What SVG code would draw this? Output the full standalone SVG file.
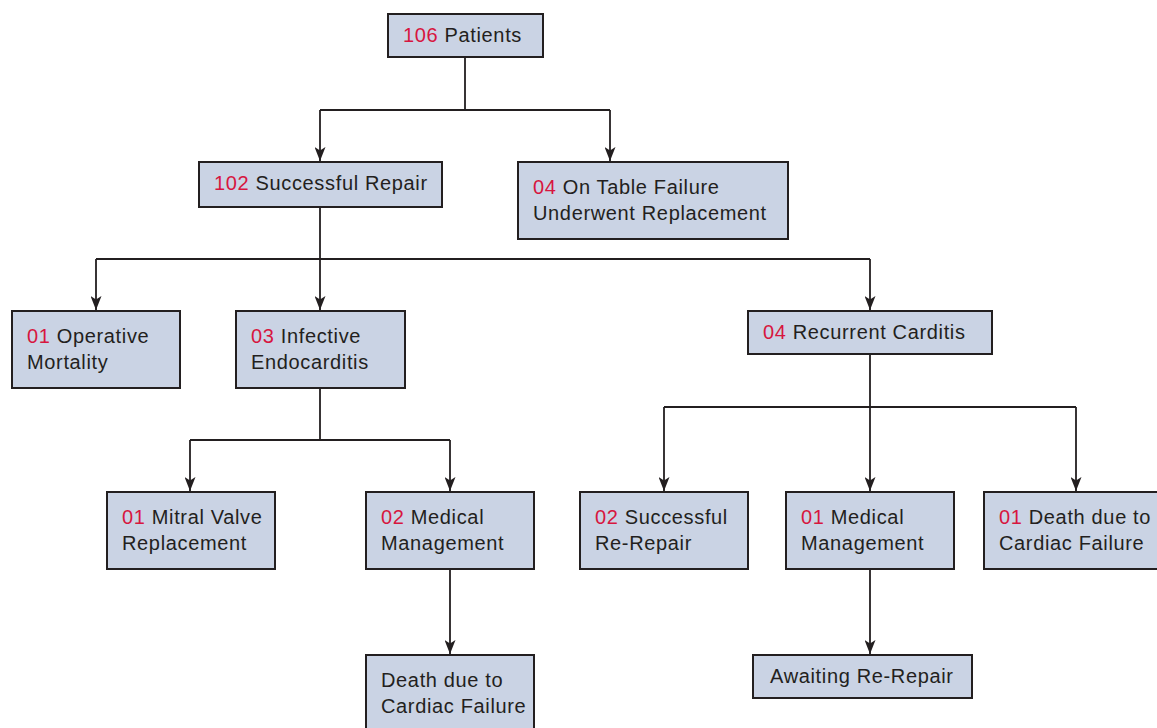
<svg xmlns="http://www.w3.org/2000/svg" width="1157" height="728" viewBox="0 0 1157 728">
<style>
.box{fill:#cad3e4;stroke:#231f20;stroke-width:2}
.t{font-family:"Liberation Sans",Arial,sans-serif;font-size:20px;letter-spacing:0.65px;fill:#231f20}
.n{fill:#d7163f}
.c{fill:none;stroke:#231f20;stroke-width:1.8}
</style>
<defs>
<marker id="a" markerWidth="11" markerHeight="14" refX="5.5" refY="14" orient="0" markerUnits="userSpaceOnUse" viewBox="0 0 11 14">
<path d="M0,0 L5.5,3.5 L11,0 L5.5,14 Z" fill="#231f20"/>
</marker>
</defs>
<g id="connectors">
<path class="c" d="M465,57 V110 M320,110 H610"/>
<path class="c" d="M320,110 V161" marker-end="url(#a)"/>
<path class="c" d="M610,110 V161" marker-end="url(#a)"/>
<path class="c" d="M320,207 V259 M96,259 H870"/>
<path class="c" d="M96,259 V310" marker-end="url(#a)"/>
<path class="c" d="M320,259 V310" marker-end="url(#a)"/>
<path class="c" d="M870,259 V310" marker-end="url(#a)"/>
<path class="c" d="M320,388 V440 M190,440 H450"/>
<path class="c" d="M190,440 V491" marker-end="url(#a)"/>
<path class="c" d="M450,440 V491" marker-end="url(#a)"/>
<path class="c" d="M870,354 V407 M664,407 H1076"/>
<path class="c" d="M664,407 V491" marker-end="url(#a)"/>
<path class="c" d="M870,407 V491" marker-end="url(#a)"/>
<path class="c" d="M1076,407 V491" marker-end="url(#a)"/>
<path class="c" d="M450,569 V654" marker-end="url(#a)"/>
<path class="c" d="M870,569 V654" marker-end="url(#a)"/>
</g>
<g id="n1"><rect class="box" x="388" y="14" width="155" height="43"/><text class="t" x="403" y="42"><tspan class="n">106</tspan> Patients</text></g>
<g id="n2"><rect class="box" x="199" y="162" width="243" height="45"/><text class="t" x="214" y="190"><tspan class="n">102</tspan> Successful Repair</text></g>
<g id="n3"><rect class="box" x="518" y="162" width="270" height="77"/><text class="t" x="533" y="194"><tspan class="n">04</tspan> On Table Failure</text><text class="t" x="533" y="220">Underwent Replacement</text></g>
<g id="n4"><rect class="box" x="12" y="311" width="168" height="77"/><text class="t" x="27" y="343"><tspan class="n">01</tspan> Operative</text><text class="t" x="27" y="369">Mortality</text></g>
<g id="n5"><rect class="box" x="236" y="311" width="169" height="77"/><text class="t" x="251" y="343"><tspan class="n">03</tspan> Infective</text><text class="t" x="251" y="369">Endocarditis</text></g>
<g id="n6"><rect class="box" x="748" y="311" width="244" height="43"/><text class="t" x="763" y="339"><tspan class="n">04</tspan> Recurrent Carditis</text></g>
<g id="n7"><rect class="box" x="107" y="492" width="168" height="77"/><text class="t" x="122" y="524"><tspan class="n">01</tspan> Mitral Valve</text><text class="t" x="122" y="550">Replacement</text></g>
<g id="n8"><rect class="box" x="366" y="492" width="168" height="77"/><text class="t" x="381" y="524"><tspan class="n">02</tspan> Medical</text><text class="t" x="381" y="550">Management</text></g>
<g id="n9"><rect class="box" x="580" y="492" width="168" height="77"/><text class="t" x="595" y="524"><tspan class="n">02</tspan> Successful</text><text class="t" x="595" y="550">Re-Repair</text></g>
<g id="n10"><rect class="box" x="786" y="492" width="168" height="77"/><text class="t" x="801" y="524"><tspan class="n">01</tspan> Medical</text><text class="t" x="801" y="550">Management</text></g>
<g id="n11"><rect class="box" x="984" y="492" width="180" height="77"/><text class="t" x="999" y="524"><tspan class="n">01</tspan> Death due to</text><text class="t" x="999" y="550">Cardiac Failure</text></g>
<g id="n12"><rect class="box" x="366" y="655" width="168" height="80"/><text class="t" x="381" y="687">Death due to</text><text class="t" x="381" y="713">Cardiac Failure</text></g>
<g id="n13"><rect class="box" x="753" y="655" width="219" height="43"/><text class="t" x="770" y="683">Awaiting Re-Repair</text></g>
</svg>
